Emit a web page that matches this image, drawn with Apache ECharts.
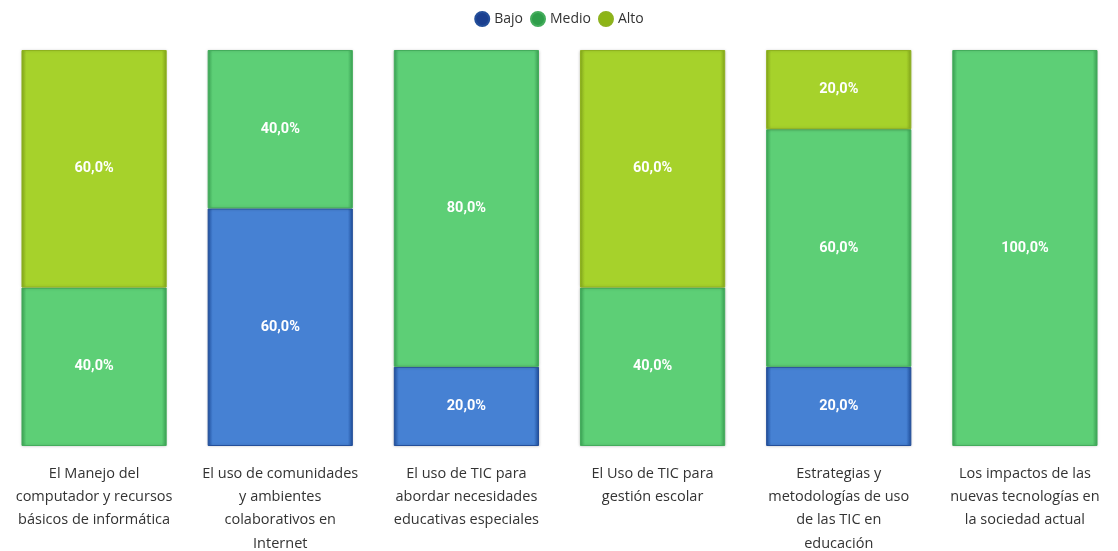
<!DOCTYPE html>
<html>
<head>
<meta charset="utf-8">
<script src="https://cdn.jsdelivr.net/npm/echarts@6/dist/echarts.min.js"></script>
<style>
  html, body { margin: 0; padding: 0; background: #ffffff; }
  #chart { width: 1118px; height: 551px; }
</style>
</head>
<body>
<div id="chart"></div>
<script>
// Competencias TIC: distribución por nivel (porcentaje)
const categories = [
  'El Manejo del\ncomputador y recursos\nbásicos de informática',
  'El uso de comunidades\ny ambientes\ncolaborativos en\nInternet',
  'El uso de TIC para\nabordar necesidades\neducativas especiales',
  'El Uso de TIC para\ngestión escolar',
  'Estrategias y\nmetodologías de uso\nde las TIC en\neducación',
  'Los impactos de las\nnuevas tecnologías en\nla sociedad actual'
];
const bajo  = [0, 60, 20, 0, 20, 0];
const medio = [40, 40, 80, 40, 60, 100];
const alto  = [60, 0, 0, 60, 20, 0];

// Fill with slightly darker side edges
function barFill(edge, mid) {
  return new echarts.graphic.LinearGradient(0, 0, 1, 0, [
    { offset: 0, color: edge },
    { offset: 0.035, color: mid },
    { offset: 0.965, color: mid },
    { offset: 1, color: edge }
  ]);
}

const labelCfg = {
  show: true,
  position: 'inside',
  color: '#ffffff',
  fontFamily: 'Roboto',
  fontWeight: 'bold',
  fontSize: 14.5,
  formatter: p => p.value.toFixed(1).replace('.', ',') + '%'
};

function makeSeries(name, data, edge, mid, border) {
  return {
    name: name,
    type: 'bar',
    stack: 'total',
    // empty segments are skipped so they leave no border sliver
    data: data.map(v => (v === 0 ? '-' : v)),
    barCategoryGap: '22%',
    itemStyle: {
      color: barFill(edge, mid),
      borderColor: border,
      borderWidth: 1,
      shadowColor: 'rgba(0,0,0,0.18)',
      shadowBlur: 3
    },
    label: labelCfg,
    emphasis: { disabled: true }
  };
}

const chart = echarts.init(document.getElementById('chart'));
chart.setOption({
  animation: false,
  legend: {
    top: 6,
    left: 'center',
    icon: 'circle',
    itemWidth: 14,
    itemHeight: 14,
    itemGap: 7,
    textStyle: { fontFamily: 'Open Sans', fontSize: 14, color: '#333333' },
    data: [
      { name: 'Bajo', itemStyle: { color: '#1b3f8f' } },
      { name: 'Medio', itemStyle: { color: '#2f9e4a' } },
      { name: 'Alto', itemStyle: { color: '#8db515' } }
    ]
  },
  grid: { left: 1, right: 0, top: 50, bottom: 105, containLabel: false, outerBoundsMode: 'none' },
  xAxis: {
    type: 'category',
    data: categories,
    axisLine: { show: false },
    axisTick: { show: false },
    axisLabel: {
      interval: 0,
      margin: 16,
      fontFamily: 'Open Sans',
      fontSize: 14.5,
      lineHeight: 23.3,
      color: '#333333'
    }
  },
  yAxis: { type: 'value', min: 0, max: 100, show: false },
  series: [
    makeSeries('Bajo', bajo, '#1f4f9e', '#4681d3', '#244f9a'),
    makeSeries('Medio', medio, '#3ba455', '#5dcf76', '#44ad5c'),
    makeSeries('Alto', alto, '#86a91c', '#a6d22b', '#8eb21f')
  ]
});
</script>
</body>
</html>
